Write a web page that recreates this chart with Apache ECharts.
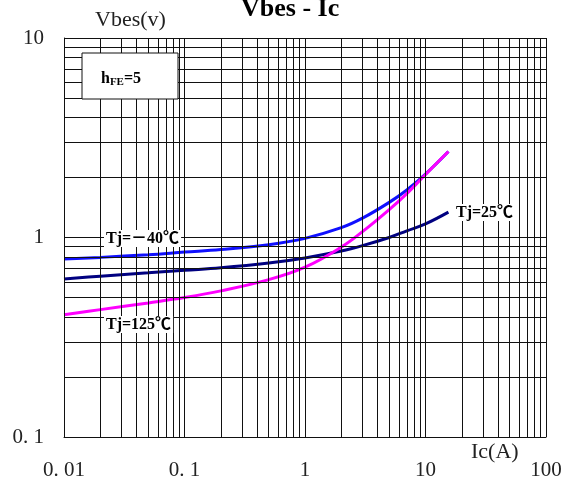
<!DOCTYPE html>
<html>
<head>
<meta charset="utf-8">
<script src="https://cdn.jsdelivr.net/npm/echarts@6/dist/echarts.min.js"></script>
<style>
  html, body { margin: 0; padding: 0; background: #fff; }
  #chart { width: 569px; height: 484px; }
</style>
</head>
<body>
<div id="chart"></div>
<script>
// tick labels
const xTickLabels = ['0. 01', '0. 1', '1', '10', '100']
const yTickLabels = ['0. 1', '1', '10']
const xDecades = [0.01, 0.1, 1, 10]
const yDecades = [0.1, 1]

// Ic (A) sample points shared by the three curves
const icPts = [0.01, 0.02, 0.05, 0.1, 0.2, 0.5, 1, 2, 3, 5, 7, 10, 15.5]

// Vbes (V) for each junction temperature
const vbM40 = [0.78, 0.795, 0.82, 0.845, 0.87, 0.92, 0.99, 1.12, 1.25, 1.50, 1.73, 2.08, 2.7]
const vb25 = [0.62, 0.64, 0.665, 0.685, 0.705, 0.745, 0.79, 0.855, 0.91, 1.0, 1.08, 1.17, 1.34]
const vb125 = [0.41, 0.435, 0.47, 0.50, 0.54, 0.615, 0.71, 0.895, 1.07, 1.38, 1.66, 2.07, 2.7]

const chart = echarts.init(document.getElementById('chart'))

function zip(xs, ys) {
  return xs.map((x, i) => [x, ys[i]])
}

// grid lines at 1..9 of every decade
const gridLines = []
xDecades.forEach(d => {
  for (let k = 1; k <= 9; k++) gridLines.push({ xAxis: +(k * d).toPrecision(3) })
})
gridLines.push({ xAxis: 100 })
yDecades.forEach(d => {
  for (let k = 1; k <= 9; k++) gridLines.push({ yAxis: +(k * d).toPrecision(3) })
})
gridLines.push({ yAxis: 10 })

const labelFont = '"Liberation Serif", "DejaVu Serif", serif'
const boldFont = '"Liberation Serif", "Noto Sans CJK SC", serif'

function curve(name, data, color) {
  return {
    name: name,
    type: 'line',
    data: data,
    smooth: 0.4,
    symbol: 'none',
    z: 3,
    lineStyle: { color: color, width: 3 }
  }
}

const option = {
  animation: false,
  title: {
    text: 'Vbes - Ic',
    left: 241,
    top: -4,
    padding: 0,
    textStyle: { fontFamily: boldFont, fontWeight: 'bold', fontSize: 26, color: '#000' }
  },
  grid: { left: 64, top: 38, width: 482, height: 399, containLabel: false, outerBoundsMode: 'none' },
  xAxis: {
    type: 'log',
    logBase: 10,
    min: 0.01,
    max: 100,
    axisLine: { show: true, lineStyle: { color: '#111', width: 1 } },
    axisTick: { show: false },
    splitLine: { show: false },
    axisLabel: {
      margin: 23,
      color: '#222',
      fontFamily: labelFont,
      fontSize: 21,
      showMinLabel: true,
      showMaxLabel: true,
      hideOverlap: false,
      formatter: v => xTickLabels[Math.round(Math.log10(v)) + 2]
    }
  },
  yAxis: {
    type: 'log',
    logBase: 10,
    min: 0.1,
    max: 10,
    axisLine: { show: true, lineStyle: { color: '#111', width: 1 } },
    axisTick: { show: false },
    splitLine: { show: false },
    axisLabel: {
      margin: 20,
      color: '#222',
      fontFamily: labelFont,
      fontSize: 21,
      padding: [6, 0, 0, 0],
      showMinLabel: true,
      showMaxLabel: true,
      formatter: v => yTickLabels[Math.round(Math.log10(v)) + 1]
    }
  },
  series: [
    {
      type: 'line',
      data: [],
      z: 1,
      markLine: {
        silent: true,
        symbol: ['none', 'none'],
        label: { show: false },
        lineStyle: { color: '#111', width: 1, type: 'solid' },
        data: gridLines
      }
    },
    curve('Tj=-40', zip(icPts, vbM40), '#1010ff'),
    curve('Tj=25', zip(icPts, vb25), '#000080'),
    curve('Tj=125', zip(icPts, vb125), '#ff00ff')
  ],
  graphic: [
    {
      type: 'text', left: 95, top: 9, z: 10,
      style: { text: 'Vbes(v)', font: '22px ' + labelFont, fill: '#222' }
    },
    {
      type: 'text', left: 471, top: 441, z: 10,
      style: { text: 'Ic(A)', font: '22px ' + labelFont, fill: '#222' }
    },
    {
      type: 'rect', z: 10,
      shape: { x: 82, y: 53, width: 96, height: 46 },
      style: { fill: '#fff', stroke: '#111', lineWidth: 1 }
    },
    {
      type: 'text', left: 101, top: 71, z: 11,
      style: {
        text: '{h|h}{s|FE}{h|=5}',
        rich: {
          h: { fontFamily: boldFont, fontWeight: 'bold', fontSize: 16, fill: '#000' },
          s: { fontFamily: boldFont, fontWeight: 'bold', fontSize: 11, fill: '#000', padding: [7, 0, 0, 0] }
        }
      }
    },
    {
      type: 'text', left: 104, top: 230, z: 11,
      style: {
        text: 'Tj=－40℃', font: 'bold 16px ' + boldFont, fill: '#000',
        backgroundColor: '#fff', padding: [1, 2, 0, 2]
      }
    },
    {
      type: 'text', left: 104, top: 316, z: 11,
      style: {
        text: 'Tj=125℃', font: 'bold 16px ' + boldFont, fill: '#000',
        backgroundColor: '#fff', padding: [1, 2, 0, 2]
      }
    },
    {
      type: 'text', left: 454, top: 204, z: 11,
      style: {
        text: 'Tj=25℃', font: 'bold 16px ' + boldFont, fill: '#000',
        backgroundColor: '#fff', padding: [1, 2, 0, 2]
      }
    }
  ]
}

chart.setOption(option)
</script>
</body>
</html>
